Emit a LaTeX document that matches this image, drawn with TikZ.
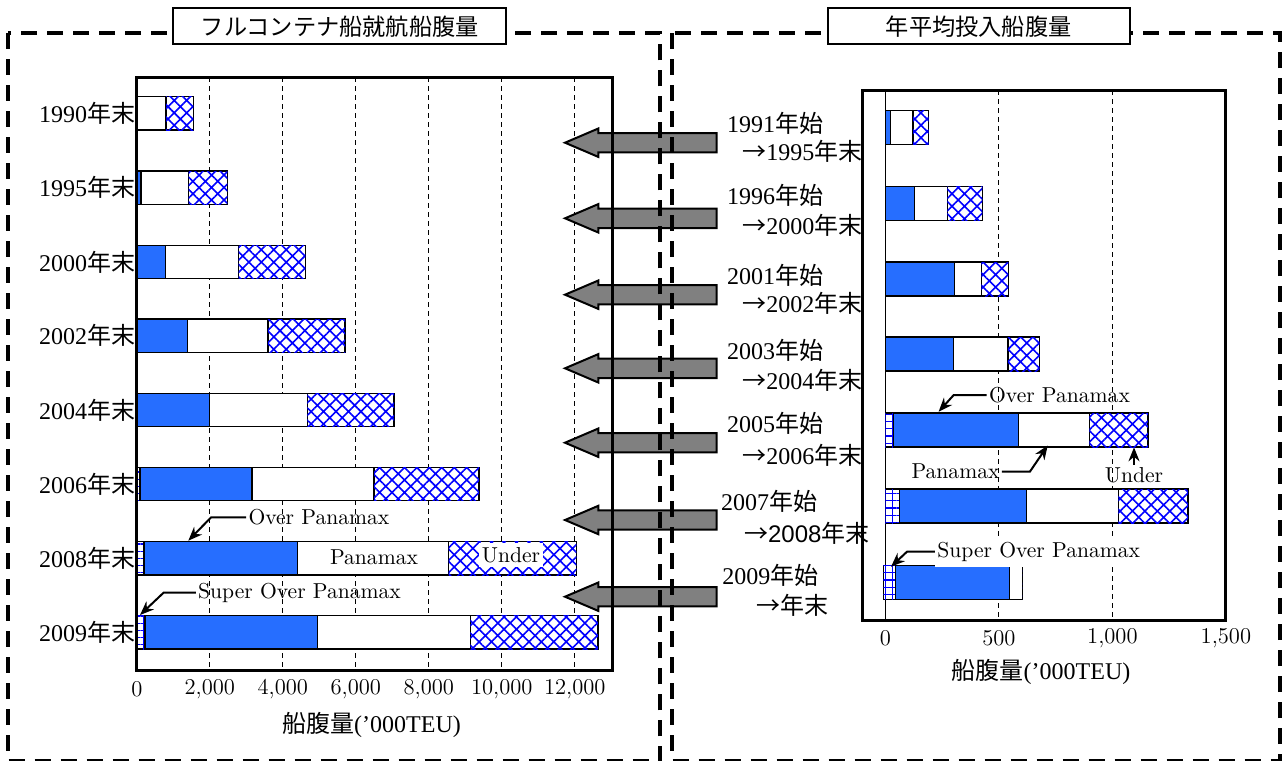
\documentclass[tikz,border=0pt]{standalone}
\usepackage{fontspec}
\newfontfamily\tms{Liberation Serif}
\newfontfamily\jp{Noto Sans CJK JP}
\newfontfamily\lsans{Liberation Sans}
\usetikzlibrary{patterns.meta, arrows.meta, positioning}
\definecolor{opblue}{RGB}{38,110,255}

\begin{document}
\begin{tikzpicture}[x = 0.5pt, y = -0.5pt,
    bar/.style = { draw, line width = 0.75pt },
    sop/.style = { bar, fill = white, postaction = { pattern = {Hatch[angle = 0, distance = 3.6pt, line width = 0.6pt]}, pattern color = blue } },
    op/.style = { bar, fill = opblue },
    pmx/.style = { bar, fill = white },
    und/.style = { bar, fill = white, postaction = { pattern = {Hatch[angle = 45, distance = 4.4pt, line width = 0.8pt]}, pattern color = blue } },
    gridln/.style = { line width = 0.5pt, dash pattern = on 2.5pt off 2pt },
    plotframe/.style = { line width = 1.5pt },
    outer/.style = { line width = 2pt, dash pattern = on 8pt off 5pt },
    blkarrow/.style = { draw, line width = 1pt, fill = gray, line join = miter },
    ttl/.style = { draw, fill = white, line width = 1pt, minimum height = 18pt, font = \jp\fontsize{11.6}{14}\selectfont },
    yrlbl/.style = { inner sep = 0pt, font = \tms\fontsize{12}{14}\selectfont },
    ticklbl/.style = { inner sep = 0pt, font = \fontsize{11.3}{13}\selectfont },
    axttl/.style = { inner sep = 0pt, font = \tms\fontsize{12}{14}\selectfont },
    anno/.style = { inner sep = 1pt, font = \fontsize{10.8}{13}\selectfont },
    callout/.style = { line width = 1pt, -{Stealth[length = 7pt, width = 5.5pt]} }
  ]
  \fill[white] (0,0) rectangle (1283,760);
  \useasboundingbox (0,0) rectangle (1283,760);

  \begin{scope}[shift = {(136.8,0)}, x = 18.25pt]
    \foreach \v in {2,4,...,12} \draw[gridln] (\v,77) -- (\v,670);
    \foreach \y/\so/\ob/\pw/\uh in {113.3/0/0/0.80/1.55, 187.7/0/0.12/1.42/2.48, 262/0/0.78/2.79/4.62, 335.8/0/1.39/3.59/5.71,
        410/0/1.99/4.67/7.05, 484/0.09/3.16/6.50/9.38, 558.3/0.20/4.40/8.54/12.04, 632.3/0.22/4.95/9.14/12.63} {
      \draw[sop] (0,\y-16.7) rectangle (\so,\y+16.7);
      \draw[op] (\so,\y-16.7) rectangle (\ob,\y+16.7);
      \draw[pmx] (\ob,\y-16.7) rectangle (\pw,\y+16.7);
      \draw[und] (\pw,\y-16.7) rectangle (\uh,\y+16.7);
    }
    \foreach \v/\t in {0/0, 2/{2,000}, 4/{4,000}, 6/{6,000}, 8/{8,000}, 10/{10,000}, 12/{12,000}}
      \node[ticklbl] (tl\v) at (\v,689.3) {\t};
  \end{scope}

  \begin{scope}[shift = {(885.4,0)}, x = 0.1135pt]
    \draw[line width = 0.6pt] (0,90) -- (0,620);
    \foreach \v in {500,1000} \draw[gridln] (\v,90) -- (\v,620);
    \foreach \y/\st/\so/\ob/\pw/\uh in {127.5/0/0/23/122/190, 203.5/0/0/128/273/427, 279/0/0/304/423/542, 354/0/0/300/539/679,
        430/0/35/587/898/1156, 506/0/62/621/1026/1334, 582.5/-9/45/546/603/603} {
      \draw[sop] (\st,\y-17) rectangle (\so,\y+17);
      \draw[op] (\so,\y-17) rectangle (\ob,\y+17);
      \draw[pmx] (\ob,\y-17) rectangle (\pw,\y+17);
      \draw[und] (\pw,\y-17) rectangle (\uh,\y+17);
    }
    \foreach \v/\t in {0/0, 500/500, 1000/{1,000}, 1500/{1,500}}
      \node[ticklbl] (tr\v) at (\v,638.3) {\t};
  \end{scope}

  \foreach \y in {142.7,218.3,294.7,368.3,442.7,520,596.7}
    \draw[blkarrow] (716.7,\y-9.7) -- (598.3,\y-9.7) -- (598.3,\y-14.2) -- (565,\y)
      -- (598.3,\y+14.2) -- (598.3,\y+9.7) -- (716.7,\y+9.7) -- cycle;

  \draw[plotframe] (136.8,77) rectangle (612.8,670);
  \draw[plotframe] (862.8,90) rectangle (1225.9,620);

  \draw[outer] (8.3,33.3) rectangle (660,761);
  \draw[outer] (672.3,33.3) rectangle (1279.8,761);
  \node[ttl, minimum width = 166.4pt] (ttlL) at (339.8,26.3) {フルコンテナ船就航船腹量};
  \node[ttl, minimum width = 151pt] (ttlR) at (978.6,26.3) {年平均投入船腹量};

  \foreach \y/\t in {113.3/1990, 187.7/1995, 262/2000, 335.8/2002, 410/2004, 484/2006, 558.3/2008, 632.3/2009}
    \node[yrlbl, anchor = east] (yr\t) at (135.5,\y) {\t{\jp 年末}};

  \foreach \ya/\ta/\yb/\tb in {123.3/1991/151.7/1995, 195.7/1996/225/2000, 275/2001/303.3/2002, 350/2003/380/2004, 423.3/2005/455/2006} {
    \node[yrlbl, anchor = west] (st\ta) at (726.7,\ya) {\ta{\jp 年始}};
    \node[yrlbl, anchor = west] (en\tb) at (742,\yb) {{\jp →}\tb{\jp 年末}};
  }
  \node[yrlbl, anchor = west] (st2007) at (720.6,501.7) {2007{\jp 年始}};
  \node[yrlbl, anchor = west] (en2008) at (743.7,533.3) {{\jp →}{\lsans 2008}{\jp 年末}};
  \node[yrlbl, anchor = west] (st2009) at (721.9,575) {2009{\jp 年始}};
  \node[yrlbl, anchor = west] (en2009) at (755.8,605) {{\jp →年末}};

  \node[axttl] (axL) at (371.5,725) {{\jp 船腹量}(’000TEU)};
  \node[axttl] (axR) at (1041,671.7) {{\jp 船腹量}(’000TEU)};

  \node[anno] (opL) at (318.9,517.3) {Over Panamax};
  \coordinate (opLtip) at (188.3,540.7);
  \draw[callout] (opL.west) -- ++(-35,0) -- (opLtip);
  \node[anno] (sopL) at (299.5,592.5) {Super Over Panamax};
  \coordinate (sopLtip) at (140,615);
  \draw[callout] (sopL.west) -- ++(-32,0) -- (sopLtip);
  \node[anno] (pmxL) at (374,557.3) {Panamax};
  \node[anno, fill = white, inner xsep = 1.5pt, minimum height = 12pt] (undL) at (511,555) {Under};

  \node[anno] (opR) at (1059.5,395) {Over Panamax};
  \coordinate (opRtip) at (938.6,411.7);
  \draw[callout] (opR.west) -- ++(-33,0) -- (opRtip);
  \node[anno] (pmxR) at (955.5,471.7) {Panamax};
  \coordinate (pmxRtip) at (1047.7,445.5);
  \draw[callout] (pmxR.east) -- ++(28,0) -- (pmxRtip);
  \node[anno] (undR) at (1134,475) {Under};
  \coordinate (undRtip) at (1134,447.3);
  \draw[callout] (undR.north) -- (undRtip);
  \node[anno, fill = white, inner ysep = 2.6pt] (sopR) at (1038.7,551.7) {Super Over Panamax};
  \coordinate (sopRtip) at (891,566.7);
  \draw[callout] (sopR.west) -- ++(-28,0) -- (sopRtip);
\end{tikzpicture}
\end{document}
